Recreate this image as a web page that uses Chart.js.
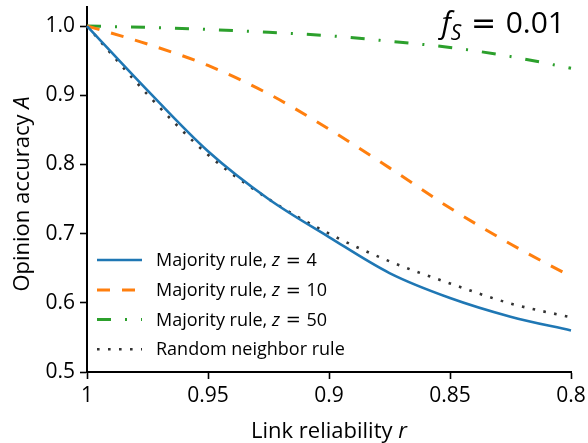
<!DOCTYPE html>
<html>
<head>
<meta charset="utf-8">
<script src="https://cdn.jsdelivr.net/npm/chart.js@4/dist/chart.umd.min.js"></script>
<style>
  html, body { margin: 0; padding: 0; background: #fff; }
  #wrap { width: 588px; height: 443px; }
</style>
</head>
<body>
<div id="wrap"><canvas id="accuracyChart" width="588" height="443"></canvas></div>
<script>
// link reliability r (x) and opinion accuracy A for each rule
const reliability    = [1, 0.975, 0.95, 0.925, 0.9, 0.875, 0.85, 0.825, 0.8];
const majorityZ4     = [1.0, 0.907, 0.819, 0.750, 0.695, 0.643, 0.607, 0.580, 0.560];
const majorityZ10    = [1.0, 0.974, 0.943, 0.902, 0.851, 0.795, 0.737, 0.685, 0.638];
const majorityZ50    = [1.0, 0.998, 0.995, 0.991, 0.986, 0.978, 0.969, 0.956, 0.939];
const randomNeighbor = [1.0, 0.901, 0.814, 0.750, 0.700, 0.660, 0.628, 0.599, 0.579];
const zValues = [4, 10, 50];
const xTicks = [1, 0.95, 0.9, 0.85, 0.8];
const yTicks = [0.5, 0.6, 0.7, 0.8, 0.9, 1.0];
const fS = '0.01';

const FONT = "'Open Sans', 'DejaVu Sans', sans-serif";
const MATH = "'DejaVu Sans', sans-serif";
Chart.defaults.font.family = FONT;
Chart.defaults.color = '#000';

const pts = arr => reliability.map((r, i) => ({ x: r, y: arr[i] }));

const series = [
  { values: majorityZ4,     color: '#1f77b4', dash: [],              width: 2.6, z: zValues[0] },
  { values: majorityZ10,    color: '#ff7f0e', dash: [13, 12],        width: 3,   z: zValues[1] },
  { values: majorityZ50,    color: '#2ca02c', dash: [14, 14, 2, 14], width: 3,   z: zValues[2] },
  { values: randomNeighbor, color: '#333333', dash: [2.6, 8.4],      width: 2.6, z: null }
];

// draw a run of text pieces, some of them italic
function drawRich(ctx, parts, x, y, size, align) {
  const fontOf = p => (p.i ? 'italic ' : '') + (p.size || size) + 'px ' + (p.family || FONT);
  let total = 0;
  parts.forEach(p => { ctx.font = fontOf(p); total += ctx.measureText(p.t).width; });
  let cx = align === 'center' ? x - total / 2 : align === 'right' ? x - total : x;
  parts.forEach(p => {
    ctx.font = fontOf(p);
    ctx.fillText(p.t, cx, y + (p.dy || 0));
    cx += ctx.measureText(p.t).width;
  });
}

const labelsPlugin = {
  id: 'labelsPlugin',
  afterDraw(chart) {
    const ctx = chart.ctx;
    const area = chart.chartArea;
    ctx.save();
    ctx.fillStyle = '#000';
    ctx.textBaseline = 'alphabetic';

    // axis titles
    drawRich(ctx, [{ t: 'Link reliability ' }, { t: 'r', i: true }],
      (area.left + area.right) / 2, 438, 22, 'center');
    ctx.save();
    ctx.translate(29, 194);
    ctx.rotate(-Math.PI / 2);
    drawRich(ctx, [{ t: 'Opinion accuracy ' }, { t: 'A', i: true }], 0, 0, 22, 'center');
    ctx.restore();

    // f_S annotation, top right
    drawRich(ctx, [
      { t: 'f', i: true },
      { t: 'S', i: true, size: 21, dy: 7 },
      { t: ' = ', family: MATH },
      { t: fS }
    ], 565, 33, 30, 'right');

    // legend
    const rowY = [260, 290, 319.5, 349.3];
    series.forEach((s, i) => {
      const y = rowY[i];
      ctx.save();
      ctx.strokeStyle = s.color;
      ctx.lineWidth = s.width;
      ctx.setLineDash(s.dash);
      ctx.beginPath();
      ctx.moveTo(97, y);
      ctx.lineTo(142, y);
      ctx.stroke();
      ctx.restore();
      ctx.textBaseline = 'middle';
      const parts = s.z === null
        ? [{ t: 'Random neighbor rule' }]
        : [{ t: 'Majority rule, ' }, { t: 'z', i: true }, { t: ' = ', family: MATH }, { t: String(s.z) }];
      drawRich(ctx, parts, 156, y + 1, 18, 'left');
    });
    ctx.restore();
  }
};

new Chart(document.getElementById('accuracyChart'), {
  type: 'line',
  data: {
    datasets: series.map(s => ({
      data: pts(s.values),
      borderColor: s.color,
      borderWidth: s.width,
      borderDash: s.dash,
      pointRadius: 0,
      fill: false,
      cubicInterpolationMode: 'monotone',
      clip: false
    }))
  },
  options: {
    responsive: false,
    animation: false,
    devicePixelRatio: 1,
    layout: { padding: { top: 7, right: 17, left: 0, bottom: 0 } },
    plugins: { legend: { display: false }, tooltip: { enabled: false } },
    scales: {
      x: {
        type: 'linear',
        reverse: true,
        min: 0.8,
        max: 1,
        afterBuildTicks: s => { s.ticks = xTicks.map(v => ({ value: v })); },
        afterFit: s => { s.height = 71; s.paddingLeft = 0; s.paddingRight = 0; },
        ticks: { callback: v => String(v), font: { size: 21 }, color: '#000', padding: 4, maxRotation: 0 },
        grid: { drawOnChartArea: false, drawTicks: true, tickLength: 7, tickWidth: 1.6, tickColor: '#000' },
        border: { display: true, color: '#000', width: 2 }
      },
      y: {
        min: 0.5,
        max: 1.0275,
        afterBuildTicks: s => { s.ticks = yTicks.map(v => ({ value: v })); },
        afterFit: s => { s.width = 87; s.paddingTop = 0; s.paddingBottom = 0; },
        ticks: { callback: v => v.toFixed(1), font: { size: 21 }, color: '#000', padding: 5 },
        grid: { drawOnChartArea: false, drawTicks: true, tickLength: 7, tickWidth: 1.6, tickColor: '#000' },
        border: { display: true, color: '#000', width: 2 }
      }
    }
  },
  plugins: [labelsPlugin]
});
</script>
</body>
</html>
